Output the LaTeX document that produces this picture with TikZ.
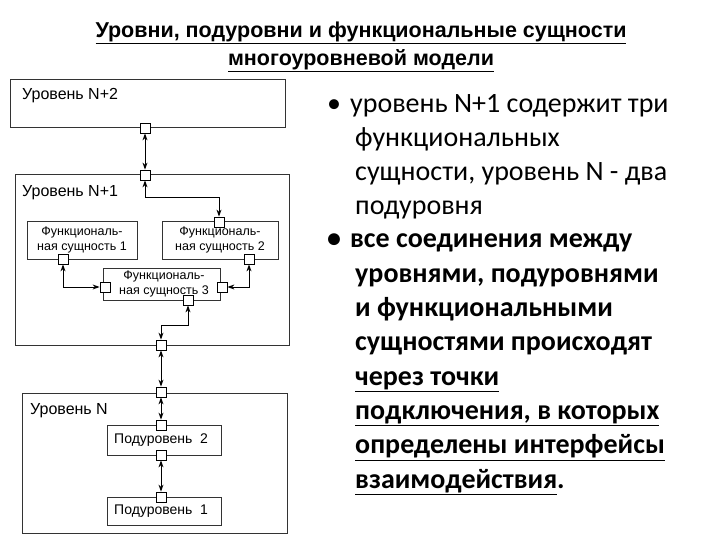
\documentclass[tikz,border=0pt]{standalone}
\usepackage{fontspec}
\setmainfont{Carlito}
\newfontfamily\diag{Liberation Sans}
\usetikzlibrary{arrows.meta}
\begin{document}
\begin{tikzpicture}[x=1pt,y=-1pt,
  lvl/.style={draw=black!80,line width=1pt,fill=white},
  port/.style={draw,fill=white,minimum size=10pt,inner sep=0pt,line width=0.8pt},
  lab/.style={font=\diag\fontsize{16}{17}\selectfont,anchor=west,inner sep=0pt},
  fs/.style={font=\diag\fontsize{12.5}{15}\selectfont,align=center,inner sep=0pt},
  con/.style={line width=1pt,{Stealth[length=7pt,width=5pt]}-{Stealth[length=7pt,width=5pt]}},
  one/.style={line width=1pt,-{Stealth[length=7pt,width=5pt]}},
  line/.style={line width=1pt}]
\useasboundingbox (0,0) rectangle (720,540);
% title
\node[font=\diag\bfseries\fontsize{21.5}{28}\selectfont,align=center] (title) at (361,47)
  {\underline{Уровни, подуровни и функциональные сущности}\\\underline{многоуровневой модели}};
% N+2
\draw[lvl] (10,80) rectangle (285,128);
\node[lab] (l2) at (22,96) {Уровень N+2};
\node[port] (p2b) at (145,128) {};
% N+1
\draw[lvl] (15,175) rectangle (289,345);
\node[lab] (l1) at (22,193) {Уровень N+1};
\node[port] (p1t) at (145,175) {};
\node[port] (p1b) at (161,345) {};
\draw[con] (p2b) -- (p1t);
% FS boxes
\draw[lvl] (27,222) rectangle (137,259);
\node[fs] (f1) at (82,240) {Функциональ-\\ная сущность 1};
\draw[lvl] (162,222) rectangle (278,259);
\node[fs] (f2) at (220,240) {Функциональ-\\ная сущность 2};
\draw[lvl] (103,268) rectangle (220,300);
\node[fs] (f3) at (164,284) {Функциональ-\\ная сущность 3};
\node[port] (f2t) at (219,222) {};
\node[port] (f1b) at (63,259) {};
\node[port] (f2b) at (249,259) {};
\node[port] (f3l) at (105,287) {};
\node[port] (f3r) at (222,287) {};
\node[port] (f3b) at (188,300) {};
\draw[one] (145,198) -- (p1t);
\draw[one] (145,198) -- (219,198) -- (f2t);
\draw[con] (f1b) |- (f3l);
\draw[con] (f2b) |- (f3r);
\draw[con] (f3b) -- (188,325) -- (161,325) -- (p1b);
% N
\draw[lvl] (22,393) rectangle (287,533);
\node[lab] (l0) at (30,411) {Уровень N};
\node[port] (p0t) at (161,392) {};
\draw[con] (p1b) -- (p0t);
\draw[lvl] (107,425) rectangle (221,455);
\node[lab,font=\diag\fontsize{14}{15}\selectfont] (s2) at (114,440) {Подуровень\ \ 2};
\draw[lvl] (107,497) rectangle (221,525);
\node[lab,font=\diag\fontsize{14}{15}\selectfont] (s1) at (114,511) {Подуровень\ \ 1};
\node[port] (s2t) at (161,425) {};
\node[port] (s2b) at (161,455) {};
\node[port] (s1t) at (161,497) {};
\draw[con] (p0t) -- (s2t);
\draw[con] (s2b) -- (s1t);
% bullets
\node[anchor=north west,inner sep=0pt,align=left,font=\fontsize{28}{34}\selectfont] (b1) at (327,94)
  {•\hspace{9pt}уровень N+1 содержит три\\
   \hspace{28pt}функциональных\\
   \hspace{28pt}сущности, уровень N - два\\
   \hspace{28pt}подуровня};
\node[anchor=north west,inner sep=0pt,align=left,font=\bfseries\fontsize{28}{34.3}\selectfont] (b2) at (327,234)
  {•\hspace{9pt}все соединения между\\
   \hspace{28pt}уровнями, подуровнями\\
   \hspace{28pt}и функциональными\\
   \hspace{28pt}сущностями происходят\\
   \hspace{28pt}\underline{через точки}\\
   \hspace{28pt}\underline{подключения, в которых}\\
   \hspace{28pt}\underline{определены интерфейсы}\\
   \hspace{28pt}\underline{взаимодействия}.};
\end{tikzpicture}
\end{document}
